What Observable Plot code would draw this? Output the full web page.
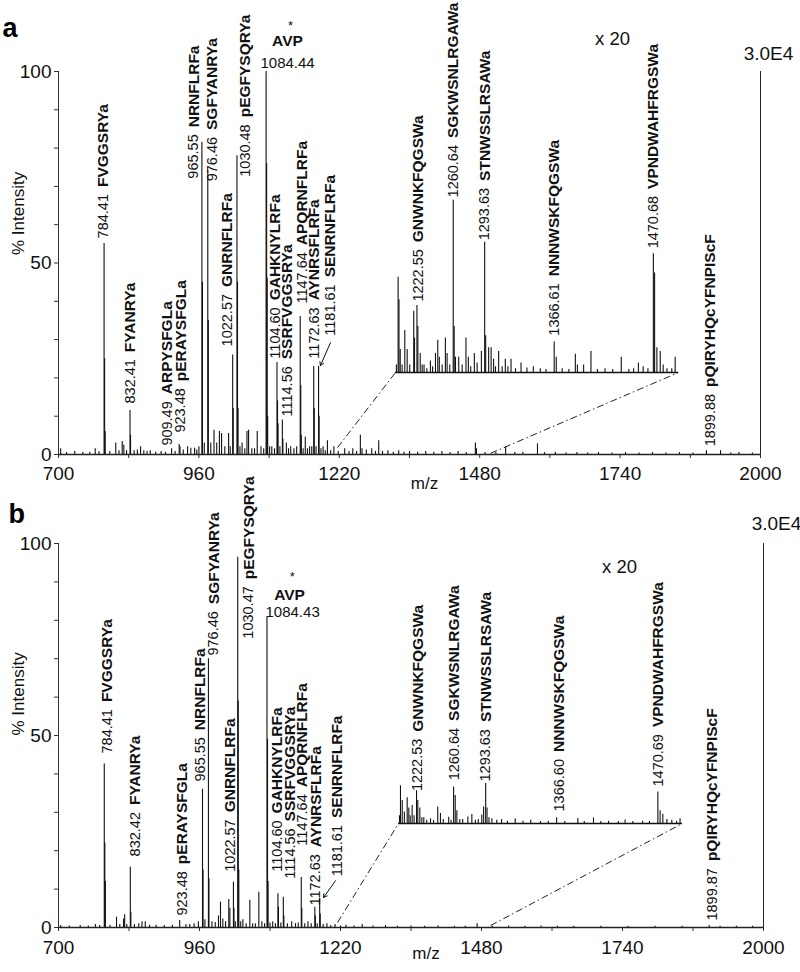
<!DOCTYPE html>
<html><head><meta charset="utf-8">
<script src="https://cdn.jsdelivr.net/npm/d3@7"></script>
<script src="https://cdn.jsdelivr.net/npm/@observablehq/plot@0.6"></script>
<style>
body{margin:0;background:#fff;}
#chart{width:800px;}
#chart svg{display:block;}
</style></head><body><div id="chart"></div>
<script>
const FONT = "'Liberation Sans', Arial, Helvetica, sans-serif";

// ---------- axis ticks ----------
const xTicks = [700, 830, 960, 1090, 1220, 1350, 1480, 1610, 1740, 1870, 2000];
const xTickLabels = [700, 960, 1220, 1480, 1740, 2000];
const yTicks = [0, 10, 20, 30, 40, 50, 60, 70, 80, 90, 100];
const yTickLabels = [0, 50, 100];

// ---------- panel a : main spectrum (m/z, % intensity) ----------
const peaksA = [
  [704,1.5],[715,0.5],[730,0.8],[745,0.5],[758,0.6],[768,1.5],[775,0.7],[784.41,55.1],[785.41,25],[786.41,6],
  [795,0.8],[806,3],[812,1],[818,3.4],[821,2.5],[826,1],[832.41,11.5],[833.41,5],[840,1],[846,1.2],[852,2],
  [858,1],[864,0.8],[870,1],[880,0.6],[890,0.8],[898,0.6],[909.49,1.5],[916,0.8],[923.48,2.6],[925,2],
  [931,1.2],[939,2],[945,1.6],[952,1.6],[956,1.2],[960,2],[965.55,81.5],[966.55,45],[970,3],[976.46,74],
  [977.46,35],[982,3],[988,6.3],[993,3],[998,6],[1002,5.5],[1008,2],[1015,5.5],[1018,2],[1022.57,26],
  [1023.57,12],[1030.48,78],[1031.48,45],[1032.5,12],[1036,2],[1040,3],[1045,1.5],[1049,6],[1052,6.3],
  [1058,1.5],[1063,1.5],[1068,6],[1075,2],[1080,1.5],[1084.44,100],[1085.44,76],[1086.44,46],[1087.4,10],
  [1091,2],[1095,2],[1100,1.5],[1104.60,24],[1105.6,14],[1106.6,8],[1110,2],[1114.56,9],[1115.56,4],
  [1122,3],[1126,1.5],[1130,2],[1136,1.5],[1141,2],[1147.64,36],[1148.64,18],[1149.6,5],[1153,1.5],
  [1157,4.5],[1161,1.5],[1165,2],[1169,2],[1172.63,23],[1173.63,12],[1177,2],[1181.61,23],[1182.61,10],
  [1186,1.5],[1190,2],[1194,1],[1198,3.6],[1204,1],[1210,2],[1218,0.8],[1230,1.5],[1238,0.8],[1245,1.5],
  [1252,0.8],[1259,5],[1262,1.5],[1270,1.2],[1280,1.5],[1287,0.8],[1293,3.6],[1300,0.8],[1310,1],
  [1320,0.6],[1330,1],[1340,0.6],[1350,0.8],[1365,0.6],[1380,0.8],[1395,0.6],[1410,0.8],[1425,0.5],
  [1440,0.8],[1455,0.5],[1472,3],[1474,1.5],[1490,0.5],[1510,0.5],[1528,2],[1545,0.5],[1560,0.6],
  [1587,2.8],[1600,0.5],[1620,0.6],[1640,0.4],[1660,0.5],[1680,0.4],[1700,0.5],[1725,0.4],[1750,0.5],
  [1775,0.4],[1800,0.5],[1825,0.4],[1850,0.5],[1875,0.4],[1899.88,1],[1926,1],[1945,0.4],[1960,0.5],[1985,0.4]
];
// panel a : x20 inset (inset m/z, displayed % above inset baseline)
const insetA = [
  [1201,2],[1202.8,24.9],[1203.7,19],[1205,6],[1207,2],[1209.8,11],[1212.3,6],[1215,2],[1219.2,16],[1220,9],
  [1222.55,17.5],[1223.5,12],[1226,5],[1228,2],[1230,2],[1233,1],[1236.7,3],[1239,1.5],[1242,5],[1244.4,8.4],
  [1246,4],[1249,2],[1252.4,9],[1254.2,5],[1257,2],[1260.64,45],[1261.64,12],[1263,4],[1266.4,4],[1270,2],
  [1274,9],[1276.5,4],[1279,1.5],[1282.8,5],[1285.7,2.5],[1290.2,5.5],[1293.63,34],[1294.7,9.6],
  [1297.8,6.5],[1300.4,6.5],[1303,3.5],[1305,1.5],[1308.3,5.5],[1312,1.5],[1315.3,3.5],[1318,1.5],
  [1321.3,3.5],[1326,1],[1331.8,2.5],[1338,1.2],[1344.7,1.5],[1352,1],[1358,0.8],[1366.61,8],[1368.8,4],
  [1375,1],[1382,0.8],[1388.8,4.8],[1391,2],[1397.5,2],[1405.2,5.5],[1412,0.8],[1420,1],[1428,0.8],
  [1437,4],[1445,0.8],[1450,1],[1455,2.5],[1460,1.5],[1465,1],[1470.68,31],[1472,26],[1474.4,6.5],
  [1477.9,5.5],[1481,2],[1485,1],[1490,1],[1493.6,4]
];
const insetRangeA = [1200, 1497];   // inset m/z range
const insetSpotA = [1324, 1848];    // where it sits on the main m/z axis
const insetBaseA = 21.4;            // inset baseline (% of main axis)
const labelsA = [
  {num:"784.41", name:"FVGGSRYa", x:783.3, y:55.9},
  {num:"832.41", name:"FYANRYa", x:833.3, y:12.8},
  {num:"909.49", name:"ARPYSFGLa", x:901.3, y:1.8},
  {num:"923.48", name:"pERAYSFGLa", x:926, y:5.2},
  {num:"965.55", name:"NRNFLRFa", x:950.6, y:71.5},
  {num:"976.46", name:"SGFYANRYa", x:984.5, y:70.8},
  {num:"1022.57", name:"GNRNFLRFa", x:1012, y:27.7},
  {num:"1030.48", name:"pEGFYSQRYa", x:1046, y:72},
  {num:"1104.60", name:"GAHKNYLRFa", x:1101.9, y:24.5},
  {num:"1114.56", name:"SSRFVGGSRYa", x:1123.4, y:9.4},
  {num:"1147.64", name:"APQRNFLRFa", x:1151.3, y:38.9},
  {num:"1172.63", name:"AYNRSFLRFa", x:1174, y:24.5},
  {num:"1181.61", name:"SENRNFLRFa", x:1203.7, y:30.5},
  {num:"1899.88", name:"pQIRYHQcYFNPIScF", x:1907, y:1.6}
];
const insetLabelsA = [
  {num:"1222.55", name:"GNWNKFQGSWa", x:1224, y:39.4},
  {num:"1260.64", name:"SGKWSNLRGAWa", x:1260.64, y:66.6},
  {num:"1293.63", name:"STNWSSLRSAWa", x:1293.63, y:55.4},
  {num:"1366.61", name:"NNNWSKFQGSWa", x:1366.61, y:30.5},
  {num:"1470.68", name:"VPNDWAHFRGSWa", x:1470.68, y:53.3}
];
const avpA = {mass:"1084.44", massX:1074, massY:102.3, avpX:1124, avpY:108, starX:1129.6, starY:112};
const zoomTextA = {x:1726, y:108.4};
const scaleTextA = {x:2014.8, y:104.7};
const connectorsA = [{x1:1216.7, y1:1.8}, {x1:1500, y1:0.3}];
const arrowA = [{x1:1203.7, y1:29.2, x2:1185, y2:23.2}];

// ---------- panel b ----------
const peaksB = [
  [704,0.5],[720,0.4],[740,0.5],[755,0.4],[768,0.8],[776,0.5],[784.41,42.6],[785.41,22],[786.41,12],
  [795,0.6],[807,2.7],[813,0.8],[820,2.2],[822,3.3],[826,0.8],[832.42,15.7],[833.42,4],[840,0.8],
  [848,1],[854,1.5],[860,1.5],[868,0.6],[880,0.6],[895,0.5],[910,0.6],[923.48,1.8],[935,0.8],[942,0.8],
  [950,1],[958,1.5],[965.55,36],[966.55,15],[970,2],[976.46,70],[977.46,12.7],[983,1.5],[989,1.3],
  [995,3],[998.7,6.6],[1003,2.2],[1008,1.5],[1014,7.3],[1016,5],[1022.57,11.8],[1023.57,5],[1026,1.5],
  [1030.47,96.4],[1031.47,59],[1032.5,15],[1036,1.5],[1040,2],[1046,1],[1052.8,7.1],[1058,1],[1063,1],
  [1069.4,9.2],[1075,1.5],[1080,1],[1084.43,80.8],[1085.43,49],[1086.43,12],[1090,1.2],[1095,1.5],
  [1100,1],[1104.60,8.8],[1105.6,5.3],[1110,1.2],[1114.56,7.9],[1115.56,3],[1122,1],[1130,1.5],
  [1137,1],[1142,1.2],[1147.64,13],[1148.64,5],[1154,1],[1160,1.5],[1166,1],[1172.63,5.3],[1173.63,3],
  [1177,1],[1181.61,7.5],[1182.61,3.5],[1188,0.8],[1195,1],[1202,0.5],[1210,0.8],[1220,0.4],[1230,0.6],
  [1245,0.4],[1260,0.8],[1280,0.4],[1303,0.5],[1325,0.3],[1350,0.4],[1375,0.3],[1400,0.4],[1430,0.3],
  [1450,0.3],[1472,1],[1500,0.3],[1530,0.4],[1560,0.3],[1590,0.4],[1620,0.3],[1650,0.3],[1700,0.3],
  [1750,0.3],[1800,0.3],[1850,0.3],[1899.87,0.5],[1920,0.3],[1950,0.3],[1980,0.3]
];
const insetB = [
  [1205,2],[1206,9.8],[1207.8,6],[1210,3],[1212.9,6.7],[1214.6,4],[1216,2],[1218,4.7],[1220,2],
  [1222.53,8.5],[1223.8,6],[1225.9,4],[1228,1.5],[1230,1.5],[1233,0.8],[1236.9,1.2],[1240,0.8],
  [1244.3,4.3],[1247.1,2.6],[1250,1],[1255.6,1.6],[1258,0.8],[1260.64,9.5],[1262.3,7.3],[1264,3.3],
  [1267,1],[1270,1],[1275.3,1.7],[1279.4,2.3],[1283,0.8],[1286,1],[1289.6,2.2],[1291.5,4.3],
  [1293.63,10.4],[1295,4],[1297,1.5],[1300,1.2],[1305,0.8],[1310,1],[1316,0.6],[1324,1.2],[1332,0.6],
  [1340,0.8],[1350,0.5],[1358,0.6],[1366.60,1.5],[1375,0.5],[1388.4,1.3],[1395,0.5],[1404.5,1.4],
  [1412,0.5],[1420,0.6],[1430,0.5],[1437,0.9],[1445,0.5],[1455,0.6],[1462,0.5],[1470.69,8.2],[1473,3.3],
  [1475.8,2.4],[1480,1],[1485,0.8],[1490,0.6],[1493.5,1.2]
];
const insetRangeB = [1204, 1496];
const insetSpotB = [1327, 1850.6];
const insetBaseB = 27.1;
const labelsB = [
  {num:"784.41", name:"FVGGSRYa", x:789.7, y:44.8},
  {num:"832.42", name:"FYANRYa", x:842, y:18},
  {num:"923.48", name:"pERAYSFGLa", x:928, y:2.6},
  {num:"965.55", name:"NRNFLRFa", x:961.8, y:37.5},
  {num:"976.46", name:"SGFYANRYa", x:986.4, y:70.3},
  {num:"1022.57", name:"GNRNFLRFa", x:1017, y:14},
  {num:"1030.47", name:"pEGFYSQRYa", x:1051, y:74.7},
  {num:"1104.60", name:"GAHKNYLRFa", x:1103, y:14},
  {num:"1114.56", name:"SSRFVGGSRYa", x:1127.8, y:12.2},
  {num:"1147.64", name:"APQRNFLRFa", x:1149.4, y:20.8},
  {num:"1172.63", name:"AYNRSFLRFa", x:1174, y:5.2},
  {num:"1181.61", name:"SENRNFLRFa", x:1214, y:12.8},
  {num:"1899.87", name:"pQIRYHQcYFNPIScF", x:1905.4, y:1.3}
];
const insetLabelsB = [
  {num:"1222.53", name:"GNWNKFQGSWa", x:1223.8, y:35},
  {num:"1260.64", name:"SGKWSNLRGAWa", x:1261.5, y:37.8},
  {num:"1293.63", name:"STNWSSLRSAWa", x:1293.63, y:37.5},
  {num:"1366.60", name:"NNNWSKFQGSWa", x:1369, y:29.7},
  {num:"1470.69", name:"VPNDWAHFRGSWa", x:1470.69, y:36.2}
];
const avpB = {mass:"1084.43", massX:1081.7, massY:82, avpX:1126, avpY:86.7, starX:1131, starY:91.4};
const zoomTextB = {x:1734.5, y:93.75};
const scaleTextB = {x:2024, y:105.2};
const connectorsB = [{x1:1214.5, y1:1.3}, {x1:1496.6, y1:0.5}];
const arrowB = [{x1:1210.8, y1:12.2, x2:1188.7, y2:7.8}];

// ---------- helpers ----------
const NUM_FS = 14.5, NAME_FS = 15.5;
const ctx = document.createElement("canvas").getContext("2d");
function textWidth(s, font) { ctx.font = font; return ctx.measureText(s).width; }

function panel(P) {
  const t = mz => P.spot[0] + (mz - P.range[0]) * (P.spot[1] - P.spot[0]) / (P.range[1] - P.range[0]);
  const peaks = P.peaks.map(([mz, i]) => ({mz, i}));
  const inset = P.inset.map(([mz, i]) => ({x: t(mz), y2: P.base + i}));
  const labels = P.labels.map(d => ({...d}))
    .concat(P.insetLabels.map(d => ({...d, x: t(d.x)})));
  labels.forEach(d => { d.off = textWidth(d.num, `${NUM_FS}px ${FONT}`) + 7; });
  const links = [
    {x1: P.connectors[0].x1, y1: P.connectors[0].y1, x2: t(P.range[0]), y2: P.base},
    {x1: P.connectors[1].x1, y1: P.connectors[1].y1, x2: t(P.range[1]), y2: P.base}
  ];
  const nameMarks = labels.map(d => Plot.text([d], {
    x: "x", y: "y", text: "name", rotate: -90, textAnchor: "start",
    dy: -(d.off + 2), fontSize: NAME_FS, fontWeight: "bold", fill: "#111"
  }));
  return Plot.plot({
    width: 800, height: 486,
    marginTop: P.mt, marginBottom: P.mb, marginLeft: 58, marginRight: P.mr,
    x: {domain: [700, 2000], axis: null},
    y: {domain: [0, 100], axis: null},
    style: {fontFamily: FONT, fontSize: "19px", color: "#111", background: "#fff", overflow: "visible"},
    marks: [
      Plot.axisX({ticks: xTicks, tickFormat: d => xTickLabels.includes(d) ? String(d) : "",
        tickSize: 4, tickPadding: P.xPad, label: null, stroke: "#333"}),
      Plot.axisY({ticks: yTicks, tickFormat: d => yTickLabels.includes(d) ? String(d) : "",
        tickSize: 4, tickPadding: 3, label: null, stroke: "#333"}),
      Plot.ruleX([700], {y1: 0, y2: 100, stroke: "#333"}),
      Plot.ruleX([2000], {y1: 0, y2: 100, stroke: "#222"}),
      Plot.ruleY([0], {x1: 700, x2: 2000, stroke: "#222", strokeWidth: 1.3}),
      Plot.ruleX(peaks, {x: "mz", y1: 0, y2: "i", stroke: "#111", strokeWidth: 1.1}),
      Plot.ruleY([P.base], {x1: t(P.range[0]), x2: t(P.range[1]), stroke: "#111", strokeWidth: 1.6}),
      Plot.ruleX(inset, {x: "x", y1: P.base, y2: "y2", stroke: "#111", strokeWidth: 1.1}),
      Plot.link(links, {x1: "x1", y1: "y1", x2: "x2", y2: "y2", stroke: "#222", strokeDasharray: "7,3,1.5,3"}),
      Plot.arrow(P.arrow, {x1: "x1", y1: "y1", x2: "x2", y2: "y2", headLength: 6, stroke: "#111", strokeWidth: 1}),
      Plot.text(labels, {x: "x", y: "y", text: "num", rotate: -90, textAnchor: "start", dy: -2,
        fontSize: NUM_FS, fill: "#111"}),
      ...nameMarks,
      Plot.text([P.avp], {x: "massX", y: "massY", text: "mass", textAnchor: "start", fontSize: 15, fill: "#111"}),
      Plot.text([P.avp], {x: "avpX", y: "avpY", text: () => "AVP", fontSize: 15.5, fontWeight: "bold", fill: "#111"}),
      Plot.text([P.avp], {x: "starX", y: "starY", text: () => "*", fontSize: 13, fill: "#111"}),
      Plot.text([P.zoom], {x: "x", y: "y", text: () => "x 20", fontSize: 18.5, fill: "#111"}),
      Plot.text([P.scale], {x: "x", y: "y", text: () => "3.0E4", fontSize: 19, fill: "#111"}),
      Plot.text(["% Intensity"], {frameAnchor: "left", text: d => d, rotate: -90, dx: -40, dy: P.ylabDy, fontSize: 17, fill: "#111"}),
      Plot.text(["m/z"], {frameAnchor: "bottom", text: d => d, dx: 15, dy: P.xlabDy, fontSize: 17, fill: "#111"}),
      Plot.text([P.letter], {frameAnchor: "top-left", text: d => d, textAnchor: "start", dx: P.letterDx, dy: P.letterDy,
        fontSize: 27, fontWeight: "bold", fill: "#000"})
    ]
  });
}

const chart = document.getElementById("chart");
chart.append(panel({
  peaks: peaksA, inset: insetA, range: insetRangeA, spot: insetSpotA, base: insetBaseA,
  labels: labelsA, insetLabels: insetLabelsA, avp: avpA, zoom: zoomTextA, scale: scaleTextA,
  connectors: connectorsA, arrow: arrowA, mt: 71, mb: 32, mr: 40, xPad: 8,
  ylabDy: -8, xlabDy: 34, letter: "a", letterDx: -56, letterDy: -54
}));
chart.append(panel({
  peaks: peaksB, inset: insetB, range: insetRangeB, spot: insetSpotB, base: insetBaseB,
  labels: labelsB, insetLabels: insetLabelsB, avp: avpB, zoom: zoomTextB, scale: scaleTextB,
  connectors: connectorsB, arrow: arrowB, mt: 57, mb: 45, mr: 37, xPad: 9,
  ylabDy: 0, xlabDy: 31, letter: "b", letterDx: -50, letterDy: -40
}));
</script>
</body></html>
